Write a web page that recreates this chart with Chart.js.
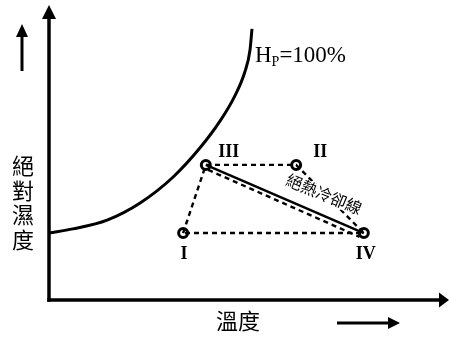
<!DOCTYPE html>
<html>
<head>
<meta charset="utf-8">
<script src="https://cdn.jsdelivr.net/npm/chart.js@4.4.1/dist/chart.umd.min.js"></script>
<style>
html,body{margin:0;padding:0;background:#fff;}
#c{display:block;}
</style>
</head>
<body>
<canvas id="c" width="449" height="341"></canvas>
<script>
// Saturation curve (Hp = 100%)
const curveTemp = [0, 6.0, 14.6, 22.9, 31.2, 37.9, 43.0, 46.7, 49.2, 50.5, 51.0];
const curveHum  = [22.7, 24.1, 27.1, 32.9, 41.7, 51.5, 60.7, 69.2, 77.3, 84.7, 91.9];
// State points
const stateNames = ['I', 'II', 'III', 'IV'];
const stateTemp  = [33.7, 62.1, 39.4, 79.1];
const stateHum   = [22.7, 45.8, 45.8, 22.7];
// Dashed path order (indices into state arrays)
const dashedPath = [0, 2, 1, 3, 0];
// Dashed companion of the adiabatic line (slightly below it)
const dashedAdiaTemp = [40.0, 78.0];
const dashedAdiaHum  = [44.1, 21.4];
// Texts
const xTitle = '溫度';
const yTitle = ['絕', '對', '濕', '度'];
const curveLabel = { main: 'H', sub: 'P', rest: '=100%' };
const adiaLabel = '絕熱冷卻線';

const pts = (xs, ys) => xs.map((x, i) => ({ x: x, y: ys[i] }));
const idx = i => ({ x: stateTemp[i], y: stateHum[i] });

const labelOffsets = { 'I': [1, 21], 'II': [24, -13], 'III': [23, -13], 'IV': [2, 21] };

function arrow(ctx, x1, y1, x2, y2, headLen, headHalf, lw) {
  const a = Math.atan2(y2 - y1, x2 - x1);
  const bx = x2 - headLen * Math.cos(a), by = y2 - headLen * Math.sin(a);
  ctx.beginPath();
  ctx.lineWidth = lw;
  ctx.strokeStyle = '#000';
  ctx.moveTo(x1, y1);
  ctx.lineTo(bx + Math.cos(a), by + Math.sin(a));
  ctx.stroke();
  ctx.beginPath();
  ctx.fillStyle = '#000';
  ctx.moveTo(x2, y2);
  ctx.lineTo(bx - headHalf * Math.sin(a), by + headHalf * Math.cos(a));
  ctx.lineTo(bx + headHalf * Math.sin(a), by - headHalf * Math.cos(a));
  ctx.closePath();
  ctx.fill();
}

const deco = {
  id: 'deco',
  beforeDatasetsDraw(chart) {
    const ctx = chart.ctx;
    const xs = chart.scales.x, ys = chart.scales.y;
    const ox = xs.getPixelForValue(0), oy = ys.getPixelForValue(0);
    ctx.save();
    arrow(ctx, ox, oy + 1.75, ox, 5, 14, 7, 3.5);
    arrow(ctx, ox - 1.75, oy, 449, oy, 10, 7.5, 3.5);
    arrow(ctx, 22, 71, 22, 24, 13, 6, 3);
    arrow(ctx, 337, 323, 400, 323, 12, 6, 3);
    ctx.restore();
  },
  afterDatasetsDraw(chart) {
    const ctx = chart.ctx;
    const xs = chart.scales.x, ys = chart.scales.y;
    ctx.save();
    // axis titles
    ctx.fillStyle = '#000';
    ctx.textAlign = 'center';
    ctx.textBaseline = 'middle';
    ctx.font = '22px "Noto Sans CJK TC", "Noto Sans CJK SC", sans-serif';
    yTitle.forEach((ch, i) => ctx.fillText(ch, 23, 166 + i * 24.5));
    ctx.fillText(xTitle, 238, 321);

    // Hp=100% label next to curve top
    const last = curveTemp.length - 1;
    const cx = xs.getPixelForValue(curveTemp[last]) + 3;
    const cy = ys.getPixelForValue(curveHum[last]) + 33;
    ctx.textAlign = 'left';
    ctx.textBaseline = 'alphabetic';
    ctx.font = '23px "Liberation Serif", "Times New Roman", serif';
    ctx.fillText(curveLabel.main, cx, cy);
    let w = ctx.measureText(curveLabel.main).width;
    ctx.font = '14px "Liberation Serif", serif';
    ctx.fillText(curveLabel.sub, cx + w, cy + 4);
    w += ctx.measureText(curveLabel.sub).width;
    ctx.font = '23px "Liberation Serif", serif';
    ctx.fillText(curveLabel.rest, cx + w, cy);

    // state labels
    ctx.textAlign = 'center';
    ctx.textBaseline = 'middle';
    ctx.font = 'bold 18px "Liberation Serif", "Times New Roman", serif';
    stateNames.forEach((n, i) => {
      const px = xs.getPixelForValue(stateTemp[i]), py = ys.getPixelForValue(stateHum[i]);
      const o = labelOffsets[n];
      ctx.fillText(n, px + o[0], py + o[1]);
    });

    // adiabatic cooling line label
    const p3x = xs.getPixelForValue(stateTemp[2]), p3y = ys.getPixelForValue(stateHum[2]);
    const p4x = xs.getPixelForValue(stateTemp[3]), p4y = ys.getPixelForValue(stateHum[3]);
    const ang = Math.atan2(p4y - p3y, p4x - p3x) - 0.02;
    const t = 0.70;
    const mx = p3x + t * (p4x - p3x), my = p3y + t * (p4y - p3y);
    const d = 20;
    ctx.translate(mx + d * Math.sin(ang), my - d * Math.cos(ang));
    ctx.rotate(ang);
    ctx.font = '16px "Noto Sans CJK TC", "Noto Sans CJK SC", sans-serif';
    const tw = ctx.measureText(adiaLabel).width;
    ctx.fillStyle = '#fff';
    ctx.fillRect(-tw / 2 - 1, -7, tw + 2, 15);
    ctx.fillStyle = '#000';
    ctx.fillText(adiaLabel, 0, 0);
    ctx.restore();
  }
};

new Chart(document.getElementById('c'), {
  type: 'scatter',
  data: {
    datasets: [
      {
        data: pts(curveTemp, curveHum),
        showLine: true,
        borderColor: '#000',
        borderWidth: 3,
        pointRadius: 0,
        cubicInterpolationMode: 'monotone'
      },
      {
        data: dashedPath.map(idx),
        showLine: true,
        borderColor: '#000',
        borderWidth: 2.4,
        borderDash: [5, 4],
        pointRadius: 0
      },
      {
        data: pts(dashedAdiaTemp, dashedAdiaHum),
        showLine: true,
        borderColor: '#000',
        borderWidth: 2.4,
        borderDash: [5, 4],
        pointRadius: 0
      },
      {
        data: [idx(2), idx(3)],
        showLine: true,
        borderColor: '#000',
        borderWidth: 2.5,
        pointRadius: 0
      },
      {
        data: stateNames.map((n, i) => idx(i)),
        showLine: false,
        pointRadius: 4.5,
        pointBorderWidth: 3,
        pointBorderColor: '#000',
        pointBackgroundColor: '#fff'
      }
    ]
  },
  options: {
    responsive: false,
    animation: false,
    layout: { autoPadding: false, padding: { left: 49, top: 5, right: 2, bottom: 41 } },
    plugins: { legend: { display: false }, tooltip: { enabled: false } },
    scales: {
      x: { type: 'linear', min: 0, max: 100, display: false },
      y: { type: 'linear', min: 0, max: 100, display: false }
    }
  },
  plugins: [deco]
});
</script>
</body>
</html>
